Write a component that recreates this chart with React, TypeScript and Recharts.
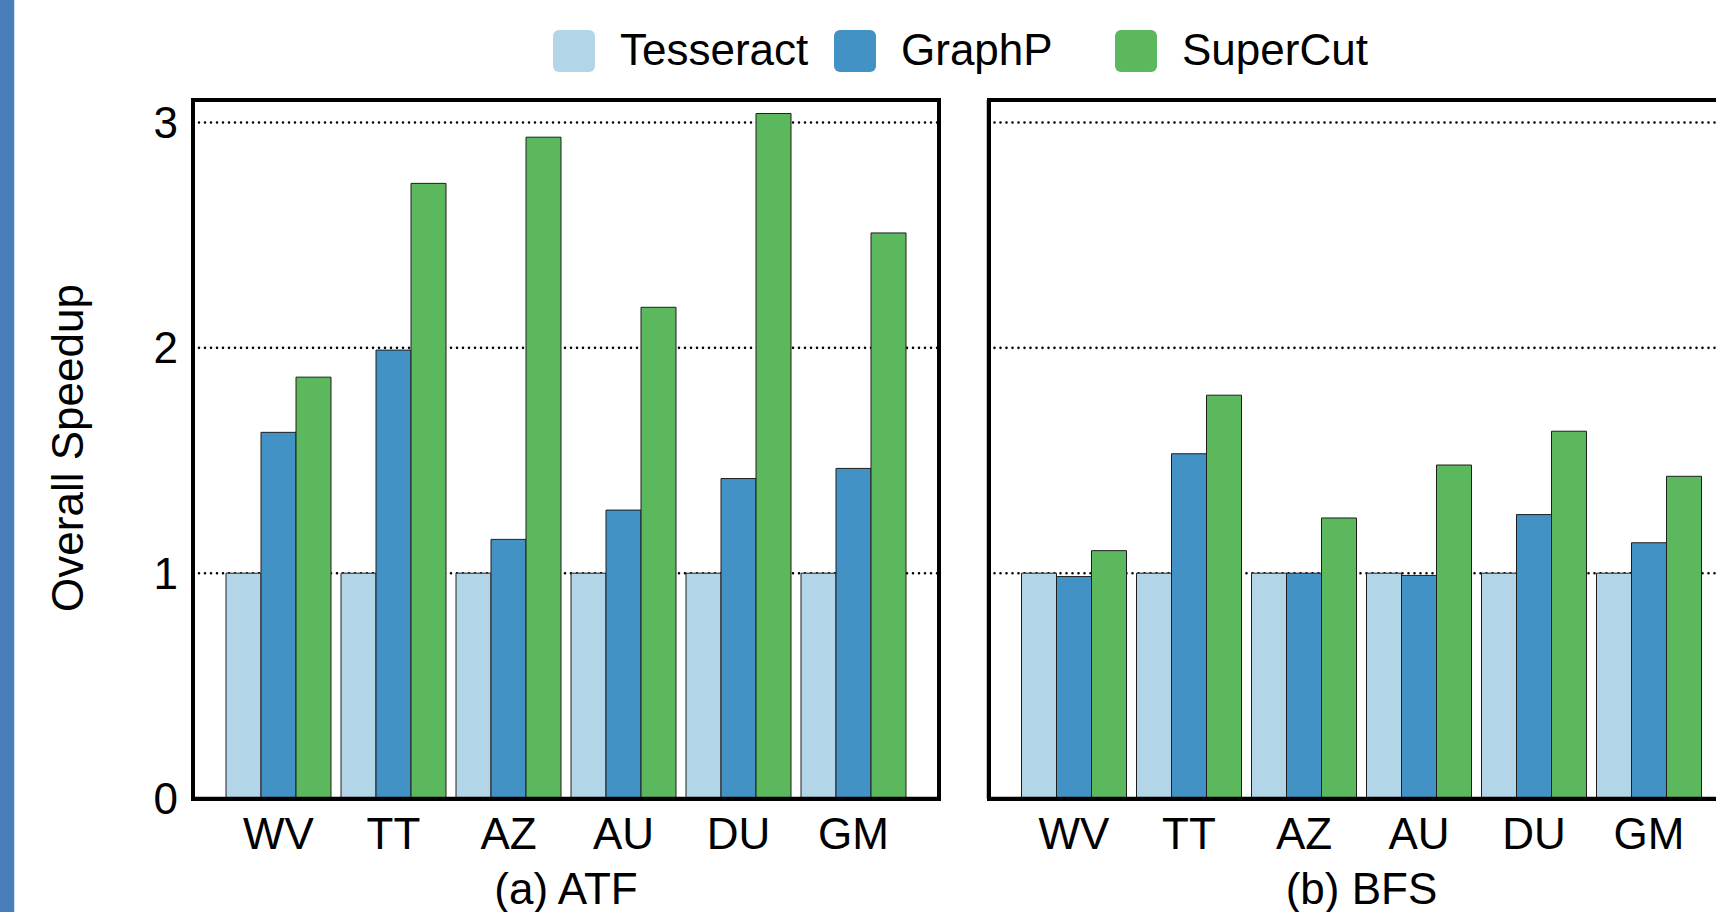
import React from "react";
import { BarChart, Bar, XAxis, YAxis, CartesianGrid } from "recharts";

const categories = ["WV", "TT", "AZ", "AU", "DU", "GM"];

const atfTesseract = [1, 1, 1, 1, 1, 1];
const atfGraphP = [1.625, 1.99, 1.15, 1.28, 1.42, 1.465];
const atfSuperCut = [1.87, 2.73, 2.935, 2.18, 3.04, 2.51];

const bfsTesseract = [1, 1, 1, 1, 1, 1];
const bfsGraphP = [0.985, 1.53, 1.0, 0.99, 1.26, 1.135];
const bfsSuperCut = [1.1, 1.79, 1.245, 1.48, 1.63, 1.43];

const yTicks = [0, 1, 2, 3];

const seriesNames = ["Tesseract", "GraphP", "SuperCut"];
const seriesKeys = ["tesseract", "graphp", "supercut"];
const seriesColors = ["#b3d5e8", "#4292c6", "#5cb85c"];

const FONT = "'Liberation Sans', Arial, Helvetica, sans-serif";
const FS = 44;

function buildRows(a: number[], b: number[], c: number[]) {
  return categories.map((name, i) => ({
    name,
    tesseract: a[i],
    graphp: b[i],
    supercut: c[i],
  }));
}

const atfData = buildRows(atfTesseract, atfGraphP, atfSuperCut);
const bfsData = buildRows(bfsTesseract, bfsGraphP, bfsSuperCut);

const axisStroke = { stroke: "#000", strokeWidth: 3.5 };

// right panel keeps its ticks (so the grid gets them) but draws no labels
const EmptyTick = () => <g />;

function Panel({
  data,
  title,
  width,
  marginLeft,
  marginRight,
  yAxisWidth,
  showYTicks,
}: {
  data: any[];
  title: string;
  width: number;
  marginLeft: number;
  marginRight: number;
  yAxisWidth: number;
  showYTicks: boolean;
}) {
  return (
    <BarChart
      width={width}
      height={912}
      data={data}
      margin={{ top: 100, bottom: 53.5, left: marginLeft, right: marginRight }}
      barGap={0}
      barCategoryGap={5}
    >
      <CartesianGrid
        vertical={false}
        stroke="#000"
        strokeWidth={2.6}
        strokeDasharray="0 6"
        strokeLinecap="round"
      />
      <XAxis
        dataKey="name"
        interval={0}
        padding={{ left: 28, right: 28 }}
        tickLine={false}
        tickSize={0}
        tickMargin={19.5}
        height={60}
        axisLine={axisStroke}
        tick={{ fill: "#000", fontSize: FS }}
        label={{
          value: title,
          position: "bottom",
          offset: 14.5,
          fill: "#000",
          fontSize: FS,
        }}
      />
      <YAxis
        type="number"
        domain={[0, 3.1]}
        ticks={yTicks}
        width={yAxisWidth}
        tickLine={false}
        tickSize={0}
        tickMargin={15}
        axisLine={axisStroke}
        tick={showYTicks ? { fill: "#000", fontSize: FS } : EmptyTick}
      />
      {seriesKeys.map((k, i) => (
        <Bar
          key={k}
          dataKey={k}
          name={seriesNames[i]}
          fill={seriesColors[i]}
          stroke="#1e1e1e"
          strokeWidth={1}
          isAnimationActive={false}
        />
      ))}
    </BarChart>
  );
}

function TopLegend() {
  return (
    <svg
      width={1716}
      height={90}
      style={{ position: "absolute", left: 0, top: 0 }}
    >
      {seriesNames.map((n, i) => (
        <g key={n}>
          <rect
            x={553 + i * 281}
            y={30}
            width={42}
            height={42}
            rx={6}
            fill={seriesColors[i]}
          />
          <text
            x={620 + i * 281}
            y={65}
            fontSize={FS}
            fill="#000"
            style={{ fontFamily: FONT }}
          >
            {n}
          </text>
        </g>
      ))}
    </svg>
  );
}

// black box around a plot area
function Frame({ left, width }: { left: number; width: number }) {
  return (
    <div
      style={{
        position: "absolute",
        left,
        top: 98,
        width,
        height: 703,
        boxSizing: "border-box",
        border: "4px solid #000",
        pointerEvents: "none",
      }}
    />
  );
}

export default function App() {
  return (
    <div
      style={{
        position: "absolute",
        left: 0,
        top: 0,
        width: 1716,
        height: 912,
        overflow: "hidden",
        background: "#fff",
        fontFamily: FONT,
      }}
    >
      {/* blue strip on the left edge */}
      <div
        style={{
          position: "absolute",
          left: 0,
          top: 0,
          width: 14,
          height: 912,
          background: "#4a7ebb",
          borderRight: "1px solid #cddff2",
        }}
      />

      <div style={{ position: "absolute", left: 0, top: 0 }}>
        <Panel
          data={atfData}
          title="(a) ATF"
          width={960}
          marginLeft={113}
          marginRight={21}
          yAxisWidth={80}
          showYTicks
        />
      </div>

      <div style={{ position: "absolute", left: 940, top: 0 }}>
        <Panel
          data={bfsData}
          title="(b) BFS"
          width={820}
          marginLeft={28.5}
          marginRight={25.5}
          yAxisWidth={20}
          showYTicks={false}
        />
      </div>

      <Frame left={191} width={750} />
      <Frame left={987} width={750} />

      <TopLegend />

      {/* y axis title */}
      <div
        style={{
          position: "absolute",
          left: 68 - 200,
          top: 448.4 - 22,
          width: 400,
          height: 44,
          lineHeight: "44px",
          fontSize: FS,
          textAlign: "center",
          color: "#000",
          transform: "rotate(-90deg)",
          whiteSpace: "nowrap",
        }}
      >
        Overall Speedup
      </div>
    </div>
  );
}
